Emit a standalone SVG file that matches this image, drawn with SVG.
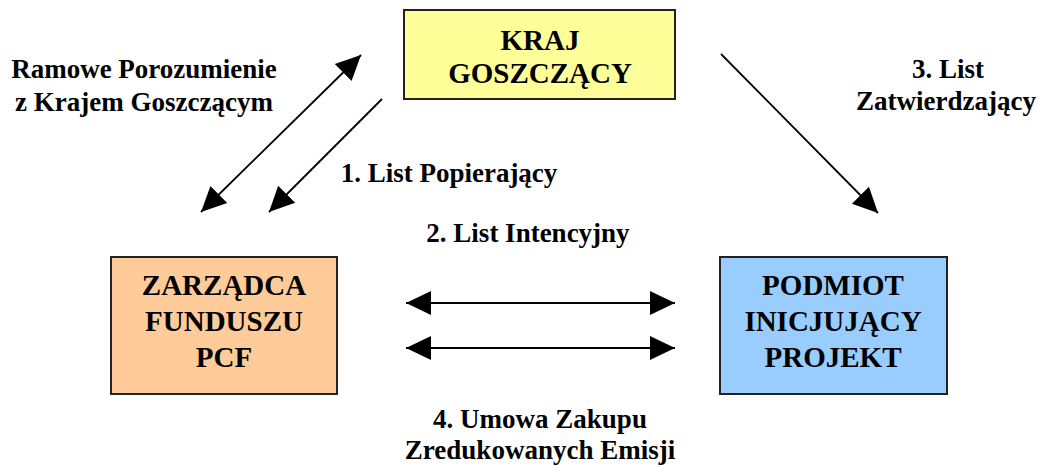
<svg xmlns="http://www.w3.org/2000/svg" width="1039" height="465" viewBox="0 0 1039 465">
<defs>
<marker id="ah" markerUnits="userSpaceOnUse" markerWidth="26" markerHeight="26" viewBox="0 0 26 26" refX="25" refY="13" orient="auto-start-reverse">
<path d="M0,1 L25,13 L0,25 Z" fill="#000"/>
</marker>
</defs>
<rect width="1039" height="465" fill="#fff"/>
<g id="kraj">
<rect x="404" y="10" width="271" height="89" fill="#FFFF99" stroke="#222" stroke-width="2"/>
<text x="540" y="50" font-family="Times New Roman, Liberation Serif, DejaVu Serif, serif" font-weight="bold" font-size="29" text-anchor="middle">KRAJ</text>
<text x="540" y="83" font-family="Times New Roman, Liberation Serif, DejaVu Serif, serif" font-weight="bold" font-size="29" text-anchor="middle">GOSZCZĄCY</text>
</g>
<g id="zarzadca">
<rect x="111" y="257" width="226" height="137" fill="#FFCC99" stroke="#222" stroke-width="2"/>
<text x="224" y="295" font-family="Times New Roman, Liberation Serif, DejaVu Serif, serif" font-weight="bold" font-size="29" text-anchor="middle">ZARZĄDCA</text>
<text x="224" y="331" font-family="Times New Roman, Liberation Serif, DejaVu Serif, serif" font-weight="bold" font-size="29" text-anchor="middle">FUNDUSZU</text>
<text x="224" y="367" font-family="Times New Roman, Liberation Serif, DejaVu Serif, serif" font-weight="bold" font-size="29" text-anchor="middle">PCF</text>
</g>
<g id="podmiot">
<rect x="720" y="257" width="227" height="137" fill="#99CCFF" stroke="#222" stroke-width="2"/>
<text x="833" y="295" font-family="Times New Roman, Liberation Serif, DejaVu Serif, serif" font-weight="bold" font-size="29" text-anchor="middle">PODMIOT</text>
<text x="833" y="331" font-family="Times New Roman, Liberation Serif, DejaVu Serif, serif" font-weight="bold" font-size="29" text-anchor="middle">INICJUJĄCY</text>
<text x="833" y="367" font-family="Times New Roman, Liberation Serif, DejaVu Serif, serif" font-weight="bold" font-size="29" text-anchor="middle">PROJEKT</text>
</g>
<g id="connectors" stroke="#000" stroke-width="1.8" fill="none">
<line x1="201" y1="212" x2="361" y2="55" marker-start="url(#ah)" marker-end="url(#ah)"/>
<line x1="382" y1="99" x2="269" y2="212" marker-end="url(#ah)"/>
<line x1="721" y1="54" x2="878" y2="213" marker-end="url(#ah)"/>
<line x1="406" y1="303" x2="675" y2="303" marker-start="url(#ah)" marker-end="url(#ah)"/>
<line x1="406" y1="348" x2="675" y2="348" marker-start="url(#ah)" marker-end="url(#ah)"/>
</g>
<g id="labels">
<text x="144" y="78" font-family="Times New Roman, Liberation Serif, DejaVu Serif, serif" font-weight="bold" font-size="27" text-anchor="middle">Ramowe Porozumienie</text>
<text x="144" y="111" font-family="Times New Roman, Liberation Serif, DejaVu Serif, serif" font-weight="bold" font-size="27" text-anchor="middle">z Krajem Goszczącym</text>
<text x="449" y="182" font-family="Times New Roman, Liberation Serif, DejaVu Serif, serif" font-weight="bold" font-size="27" text-anchor="middle">1. List Popierający</text>
<text x="528" y="242" font-family="Times New Roman, Liberation Serif, DejaVu Serif, serif" font-weight="bold" font-size="27" text-anchor="middle">2. List Intencyjny</text>
<text x="948" y="78" font-family="Times New Roman, Liberation Serif, DejaVu Serif, serif" font-weight="bold" font-size="27" text-anchor="middle">3. List</text>
<text x="946" y="110" font-family="Times New Roman, Liberation Serif, DejaVu Serif, serif" font-weight="bold" font-size="27" text-anchor="middle">Zatwierdzający</text>
<text x="540" y="428" font-family="Times New Roman, Liberation Serif, DejaVu Serif, serif" font-weight="bold" font-size="27" text-anchor="middle">4. Umowa Zakupu</text>
<text x="540" y="459" font-family="Times New Roman, Liberation Serif, DejaVu Serif, serif" font-weight="bold" font-size="27" text-anchor="middle">Zredukowanych Emisji</text>
</g>
</svg>
